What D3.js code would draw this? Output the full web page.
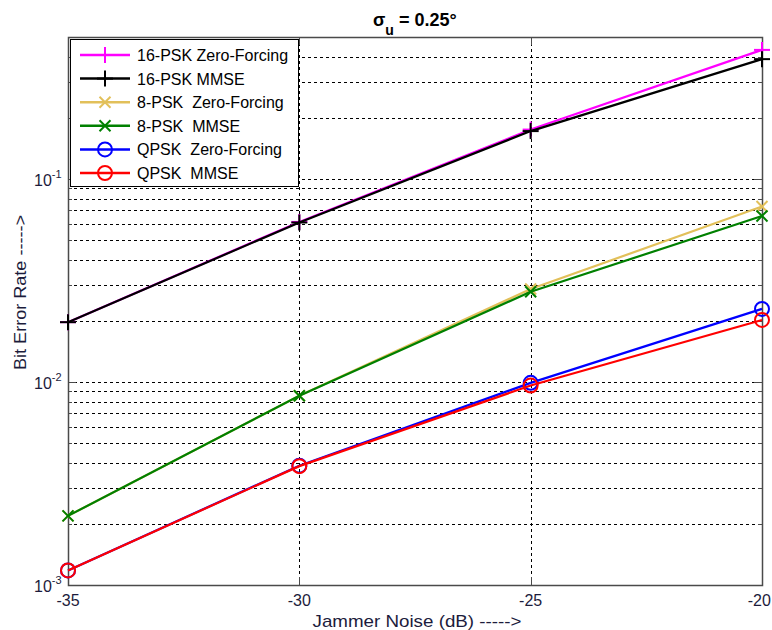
<!DOCTYPE html>
<html><head><meta charset="utf-8">
<script src="https://cdn.jsdelivr.net/npm/d3@7"></script>
<style>
body{margin:0;background:#fff;}
svg{display:block;font-family:"Liberation Sans",Arial,sans-serif;}
</style></head>
<body><svg id="c" width="772" height="630"></svg>
<script>
const xTicks = [-35, -30, -25, -20];
const jammer = [-35, -30, -25, -20];
const yMajor = [1e-3, 1e-2, 1e-1];
const yExps = [-3, -2, -1];
const psk16ZF = [0.0197, 0.0614, 0.175, 0.432];
const psk16MMSE = [0.0197, 0.0610, 0.172, 0.389];
const psk8ZF = [0.00219, 0.00856, 0.0287, 0.0731];
const psk8MMSE = [0.00219, 0.00856, 0.0278, 0.0657];
const qpskZF = [0.00118, 0.00387, 0.0099, 0.0229];
const qpskMMSE = [0.00118, 0.00385, 0.0096, 0.0202];
const seriesNames = ["16-PSK Zero-Forcing", "16-PSK MMSE", "8-PSK  Zero-Forcing", "8-PSK  MMSE", "QPSK  Zero-Forcing", "QPSK  MMSE"];
const seriesColors = ["#ff00ff", "#000000", "#e2c05a", "#008000", "#0000ff", "#ff0000"];
const seriesMarkers = ["plus", "plus", "x", "x", "circle", "circle"];
const seriesData = [psk16ZF, psk16MMSE, psk8ZF, psk8MMSE, qpskZF, qpskMMSE];

const W = 772;
const L = 68, R = 762, T = 37, B = 585;
const svg = d3.select("#c");
const x = d3.scaleLinear().domain([-35, -20]).range([L, R]);
const y = d3.scaleLog().domain([1e-3, 0.5]).range([B, T]);

const yMinor = [];
for (let e = -3; e <= -1; e++) for (let m = 2; m <= 9; m++) { const v = m * Math.pow(10, e); if (v <= 0.5) yMinor.push(v); }

const grid = svg.append("g").attr("stroke", "#000").attr("stroke-width", 1).attr("stroke-dasharray", "3,3").attr("shape-rendering", "crispEdges");
yMajor.concat(yMinor).forEach(v => {
  grid.append("line").attr("x1", L).attr("x2", R).attr("y1", Math.round(y(v)) + 0.5).attr("y2", Math.round(y(v)) + 0.5);
});
xTicks.slice(1, -1).forEach(v => {
  grid.append("line").attr("y1", T).attr("y2", B).attr("x1", Math.round(x(v)) + 0.5).attr("x2", Math.round(x(v)) + 0.5);
});

const axc = "#4a4a4a";
svg.append("rect").attr("x", L + 0.5).attr("y", T + 0.5).attr("width", R - L).attr("height", B - T)
  .attr("fill", "none").attr("stroke", axc).attr("stroke-width", 1.5);

const tk = svg.append("g").attr("stroke", axc).attr("stroke-width", 1).attr("shape-rendering", "crispEdges");
yMajor.forEach(v => {
  const yy = Math.round(y(v)) + 0.5;
  tk.append("line").attr("x1", L).attr("x2", L + 8).attr("y1", yy).attr("y2", yy);
  tk.append("line").attr("x1", R - 8).attr("x2", R).attr("y1", yy).attr("y2", yy);
});
yMinor.forEach(v => {
  const yy = Math.round(y(v)) + 0.5;
  tk.append("line").attr("x1", L).attr("x2", L + 4).attr("y1", yy).attr("y2", yy);
  tk.append("line").attr("x1", R - 4).attr("x2", R).attr("y1", yy).attr("y2", yy);
});
xTicks.forEach(v => {
  const xx = Math.round(x(v)) + 0.5;
  tk.append("line").attr("x1", xx).attr("x2", xx).attr("y1", B).attr("y2", B - 8);
  tk.append("line").attr("x1", xx).attr("x2", xx).attr("y1", T).attr("y2", T + 8);
});

const txtc = "#1c1c3c";
xTicks.forEach(v => {
  const t = svg.append("text").attr("x", x(v)).attr("y", 606).attr("text-anchor", "middle")
    .attr("font-size", 16).attr("fill", txtc).text(v);
  const bb = t.node().getBBox();
  if (bb.x + bb.width > W - 1) t.attr("x", x(v) - (bb.x + bb.width - (W - 1)));
});
yMajor.forEach((v, i) => {
  const t = svg.append("text").attr("x", 34).attr("y", y(v) + 7)
    .attr("font-size", 16).attr("fill", txtc);
  t.append("tspan").text("10");
  t.append("tspan").attr("dy", -8).attr("font-size", 11).text(yExps[i]);
});

svg.append("text").attr("x", 417).attr("y", 627).attr("text-anchor", "middle")
  .attr("font-size", 17).attr("fill", txtc).attr("textLength", 209).attr("lengthAdjust", "spacingAndGlyphs")
  .text("Jammer Noise (dB) ----->");
svg.append("text").attr("transform", "translate(25.5,292.5) rotate(-90)").attr("text-anchor", "middle")
  .attr("font-size", 16).attr("fill", txtc).attr("textLength", 155).attr("lengthAdjust", "spacingAndGlyphs")
  .text("Bit Error Rate ----->");

const title = svg.append("text").attr("x", 373).attr("y", 26)
  .attr("font-size", 18).attr("font-weight", "bold").attr("fill", "#000");
title.append("tspan").text("σ");
title.append("tspan").attr("dy", 9).attr("font-size", 14).text("u");
title.append("tspan").attr("dy", -9).text(" = 0.25°");

function drawMarker(g, type, cx, cy, color) {
  if (type === "plus") {
    g.append("line").attr("x1", cx - 8).attr("x2", cx + 8).attr("y1", cy).attr("y2", cy).attr("stroke", color).attr("stroke-width", 2);
    g.append("line").attr("x1", cx).attr("x2", cx).attr("y1", cy - 8).attr("y2", cy + 8).attr("stroke", color).attr("stroke-width", 2);
  } else if (type === "x") {
    const s = 5.5;
    g.append("line").attr("x1", cx - s).attr("x2", cx + s).attr("y1", cy - s).attr("y2", cy + s).attr("stroke", color).attr("stroke-width", 2);
    g.append("line").attr("x1", cx - s).attr("x2", cx + s).attr("y1", cy + s).attr("y2", cy - s).attr("stroke", color).attr("stroke-width", 2);
  } else {
    g.append("circle").attr("cx", cx).attr("cy", cy).attr("r", 7).attr("fill", "none").attr("stroke", color).attr("stroke-width", 2);
  }
}

const line = d3.line().x(d => x(d[0])).y(d => y(d[1]));
seriesData.forEach((vals, i) => {
  const g = svg.append("g");
  const pts = jammer.map((j, k) => [j, vals[k]]);
  g.append("path").attr("d", line(pts)).attr("fill", "none").attr("stroke", seriesColors[i]).attr("stroke-width", 2.2);
  pts.forEach(p => drawMarker(g, seriesMarkers[i], x(p[0]), y(p[1]), seriesColors[i]));
});

const lg = svg.append("g");
lg.append("rect").attr("x", 70.5).attr("y", 39.5).attr("width", 228).attr("height", 147)
  .attr("fill", "#fff").attr("stroke", "#000").attr("stroke-width", 1);
seriesNames.forEach((n, i) => {
  const cy = 55 + i * 23.6;
  lg.append("line").attr("x1", 80).attr("x2", 130).attr("y1", cy).attr("y2", cy).attr("stroke", seriesColors[i]).attr("stroke-width", 2.5);
  drawMarker(lg, seriesMarkers[i], 105, cy, seriesColors[i]);
  lg.append("text").attr("x", 137).attr("y", cy + 6).attr("font-size", 16).attr("fill", "#000")
    .attr("xml:space", "preserve").style("white-space", "pre").text(n);
});
</script></body></html>
